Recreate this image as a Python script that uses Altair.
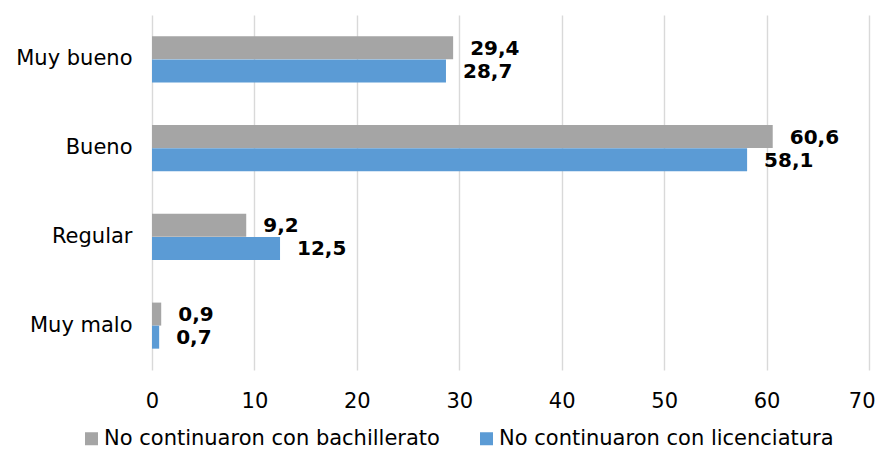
import altair as alt
import pandas as pd

categorias = ["Muy bueno", "Bueno", "Regular", "Muy malo"]
series = ["No continuaron con bachillerato", "No continuaron con licenciatura"]
bachillerato = [29.4, 60.6, 9.2, 0.9]
licenciatura = [28.7, 58.1, 12.5, 0.7]
colores = ["#A5A5A5", "#5B9BD5"]
ticks_x = [0, 10, 20, 30, 40, 50, 60, 70]

rows = []
for c, b, l in zip(categorias, bachillerato, licenciatura):
    rows.append({"cat": c, "serie": series[0], "valor": b, "etiqueta": f"{b:.1f}".replace(".", ",")})
    rows.append({"cat": c, "serie": series[1], "valor": l, "etiqueta": f"{l:.1f}".replace(".", ",")})
df = pd.DataFrame(rows)

FONT = "DejaVu Sans"

y_enc = alt.Y("cat:N", sort=categorias, title=None,
              scale=alt.Scale(paddingInner=0.48, paddingOuter=0.24),
              axis=alt.Axis(domain=False, ticks=False, labelPadding=20,
                            labelFont=FONT, labelFontSize=21, labelColor="#000000"))
x_enc = alt.X("valor:Q", title=None,
              scale=alt.Scale(domain=[0, 70], nice=False),
              axis=alt.Axis(values=ticks_x, domain=False, ticks=False, grid=True,
                            gridColor="#D9D9D9", gridWidth=1.4, labelPadding=20,
                            labelFont=FONT, labelFontSize=21, labelColor="#000000",
                            labelFlush=False,
                            labelAlign={"condition": {"test": "datum.value == 70", "value": "right"},
                                        "value": "center"},
                            labelOffset={"condition": {"test": "datum.value == 70", "value": 6},
                                         "value": 0}))
yoff = alt.YOffset("serie:N", sort=series, scale=alt.Scale(paddingInner=0, paddingOuter=0))

bars = alt.Chart(df).mark_bar(size=23).encode(
    y=y_enc,
    x=x_enc,
    yOffset=yoff,
    color=alt.Color("serie:N", sort=series,
                    scale=alt.Scale(domain=series, range=colores),
                    legend=alt.Legend(title=None, orient="none", direction="horizontal",
                                      legendX=-71, legendY=413,
                                      symbolType="square", symbolSize=169,
                                      symbolStrokeWidth=0, symbolOffset=0,
                                      labelFont=FONT, labelFontSize=21, labelColor="#000000",
                                      labelOffset=2, columnPadding=36,
                                      labelLimit=500)),
)

labels = alt.Chart(df).mark_text(align="left", baseline="middle", dx=17, dy=1,
                                 font=FONT, fontSize=20, fontWeight="bold",
                                 color="#000000").encode(
    y=alt.Y("cat:N", sort=categorias),
    x=alt.X("valor:Q"),
    yOffset=yoff,
    text="etiqueta:N",
)

chart = alt.layer(bars, labels).properties(
    width=717, height=355,
    autosize=alt.AutoSizeParams(type="none"),
    padding={"left": 144, "top": 7, "right": 11, "bottom": 81},
    background="white",
).configure_view(stroke=None)

chart.save("out.html", embed_options={"renderer": "svg", "actions": False})
